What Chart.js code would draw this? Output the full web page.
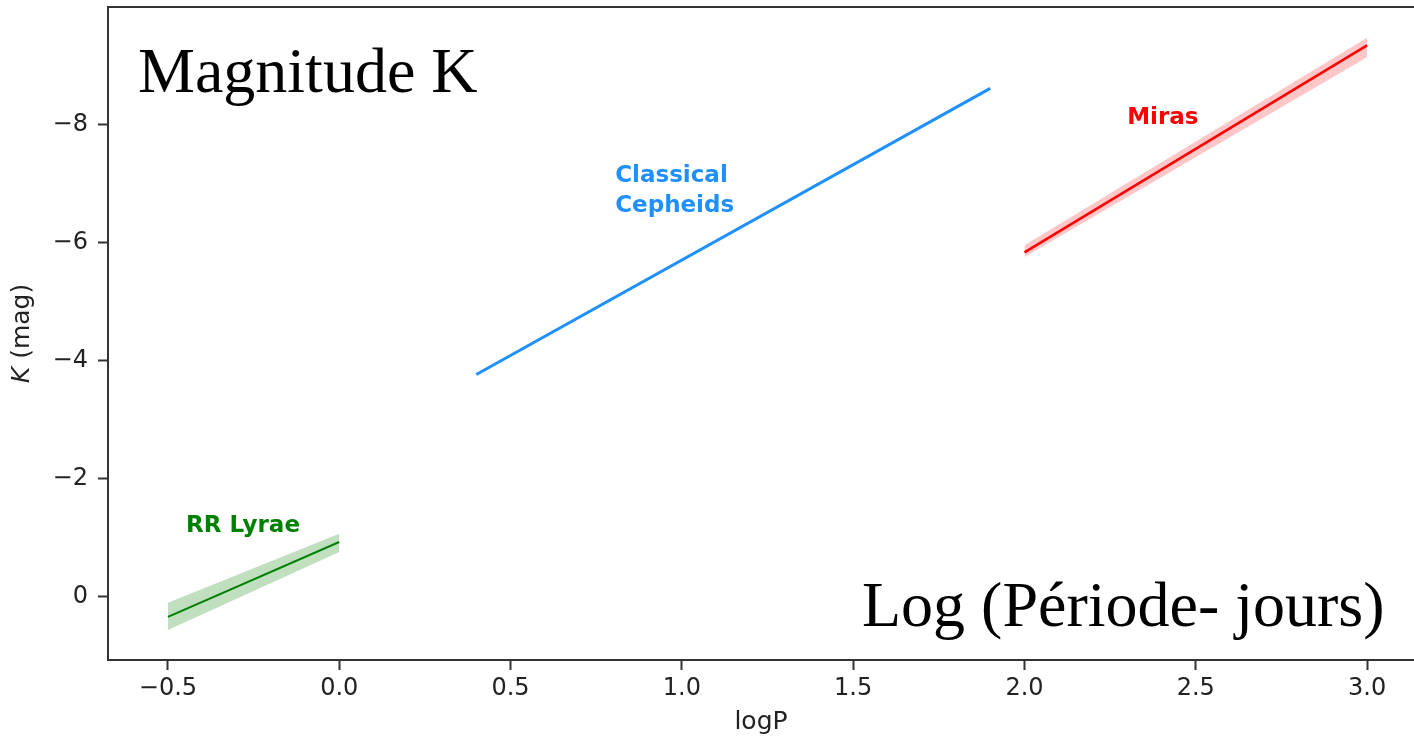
<!DOCTYPE html>
<html><head><meta charset="utf-8">
<script src="https://cdn.jsdelivr.net/npm/chart.js@4.4.0/dist/chart.umd.min.js"></script>
<style>
html,body{margin:0;padding:0;background:#fff;overflow:hidden}
#wrap{position:relative;width:1414px;height:738px}
canvas{display:block}
.big{position:absolute;font-family:"Liberation Serif","Times New Roman",serif;font-size:64px;line-height:64px;color:#000;white-space:nowrap}
</style></head><body>
<div id="wrap"><canvas id="c" width="1414" height="738"></canvas>
<div class="big" style="left:138px;top:39px">Magnitude K</div>
<div class="big" style="left:862px;top:573px">Log (Période- jours)</div>
</div>
<script>
// ---- data ----
const xTicks = [-0.5, 0.0, 0.5, 1.0, 1.5, 2.0, 2.5, 3.0];
const yTicks = [-8, -6, -4, -2, 0];

const rrLogP   = [-0.5, 0.0];
const rrK      = [0.34, -0.93];
const rrKLow   = [0.56, -0.76];
const rrKHigh  = [0.10, -1.07];

const cepLogP  = [0.4, 1.9];
const cepK     = [-3.77, -8.62];

const miraLogP  = [2.0, 3.0];
const miraK     = [-5.84, -9.35];
const miraKLow  = [-5.76, -9.15];
const miraKHigh = [-5.96, -9.48];

const labelTexts  = [['RR Lyrae'], ['Classical', 'Cepheids'], ['Miras']];
const labelLogP   = [-0.281, 0.979, 2.404];
const labelK      = [-1.24, -6.92, -8.15];
const labelColors = ['#008000', '#1E90FF', '#FF0000'];

// ---- helpers ----
const pts = (xs, ys) => xs.map((x, i) => ({x: x, y: ys[i]}));
const fmtMinus = s => s.replace('-', '\u2212');

const GREEN = '#008000', BLUE = '#1E90FF', RED = '#FF0000';
const AXIS = '#333333';

const textPlugin = {
  id: 'texts',
  afterDatasetsDraw(chart) {
    const ctx = chart.ctx, xs = chart.scales.x, ys = chart.scales.y;
    ctx.save();
    ctx.font = 'bold 23px "DejaVu Sans"';
    ctx.textBaseline = 'alphabetic';
    ctx.textAlign = 'left';
    const lh = 30, cap = 16;
    labelTexts.forEach((lines, i) => {
      const px = xs.getPixelForValue(labelLogP[i]);
      const py = ys.getPixelForValue(labelK[i]);
      const w = Math.max(...lines.map(l => ctx.measureText(l).width));
      const x0 = px - w / 2;
      const y0 = py - (lines.length - 1) * lh / 2 + cap / 2;
      ctx.fillStyle = labelColors[i];
      lines.forEach((l, j) => ctx.fillText(l, x0, y0 + j * lh));
    });
    // top frame line
    const a = chart.chartArea;
    ctx.strokeStyle = AXIS; ctx.lineWidth = 2;
    ctx.beginPath(); ctx.moveTo(a.left, a.top); ctx.lineTo(a.right, a.top); ctx.stroke();
    // y axis title with italic K
    const cy = (a.top + a.bottom) / 2;
    ctx.translate(22, cy);
    ctx.rotate(-Math.PI / 2);
    ctx.fillStyle = '#222';
    ctx.textBaseline = 'middle';
    const f1 = 'italic 25px "DejaVu Sans"', f2 = '25px "DejaVu Sans"';
    ctx.font = f1; const w1 = ctx.measureText('K').width;
    ctx.font = f2; const w2 = ctx.measureText(' (mag)').width;
    const sx = -(w1 + w2) / 2;
    ctx.font = f1; ctx.fillText('K', sx, 0);
    ctx.font = f2; ctx.fillText(' (mag)', sx + w1, 0);
    ctx.restore();
  }
};

new Chart(document.getElementById('c'), {
  type: 'scatter',
  data: {
    datasets: [
      {data: pts(rrLogP, rrKHigh), showLine: true, borderWidth: 0, pointRadius: 0, fill: false, borderColor: 'rgba(0,0,0,0)'},
      {data: pts(rrLogP, rrKLow), showLine: true, borderWidth: 0, pointRadius: 0, fill: '-1', borderColor: 'rgba(0,0,0,0)', backgroundColor: 'rgba(0,128,0,0.25)'},
      {data: pts(rrLogP, rrK), showLine: true, borderWidth: 2, pointRadius: 0, borderColor: GREEN},
      {data: pts(cepLogP, cepK), showLine: true, borderWidth: 3, pointRadius: 0, borderColor: BLUE},
      {data: pts(miraLogP, miraKHigh), showLine: true, borderWidth: 0, pointRadius: 0, fill: false, borderColor: 'rgba(0,0,0,0)'},
      {data: pts(miraLogP, miraKLow), showLine: true, borderWidth: 0, pointRadius: 0, fill: '-1', borderColor: 'rgba(0,0,0,0)', backgroundColor: 'rgba(255,0,0,0.22)'},
      {data: pts(miraLogP, miraK), showLine: true, borderWidth: 2.5, pointRadius: 0, borderColor: RED}
    ]
  },
  options: {
    responsive: false,
    animation: false,
    devicePixelRatio: 1,
    layout: {autoPadding: false, padding: {top: 7, left: 0, right: 0, bottom: 0}},
    plugins: {legend: {display: false}, tooltip: {enabled: false}},
    scales: {
      x: {
        type: 'linear', min: -0.675, max: 3.137,
        afterBuildTicks: s => { s.ticks = xTicks.map(v => ({value: v})); },
        afterFit: s => { s.height = 78; s.paddingLeft = 0; s.paddingRight = 0; },
        grid: {drawOnChartArea: false, drawTicks: true, tickLength: 10, tickColor: AXIS, tickWidth: 2},
        border: {color: AXIS, width: 2},
        ticks: {autoSkip: false, maxRotation: 0, padding: 4, color: '#222',
          font: {family: 'DejaVu Sans', size: 24},
          callback: v => fmtMinus(Number(v).toFixed(1))},
        title: {display: true, text: 'logP', color: '#222', font: {family: 'DejaVu Sans', size: 25}, padding: {top: 0, bottom: 1}}
      },
      y: {
        type: 'linear', reverse: true, min: -10, max: 1.07,
        afterBuildTicks: s => { s.ticks = yTicks.map(v => ({value: v})); },
        afterFit: s => { s.width = 108; s.paddingTop = 0; s.paddingBottom = 0; },
        grid: {drawOnChartArea: false, drawTicks: true, tickLength: 10, tickColor: AXIS, tickWidth: 2},
        border: {color: AXIS, width: 2},
        ticks: {autoSkip: false, padding: 10, color: '#222',
          font: {family: 'DejaVu Sans', size: 24},
          callback: v => fmtMinus(String(v))}
      }
    }
  },
  plugins: [textPlugin]
});
</script>
</body></html>
